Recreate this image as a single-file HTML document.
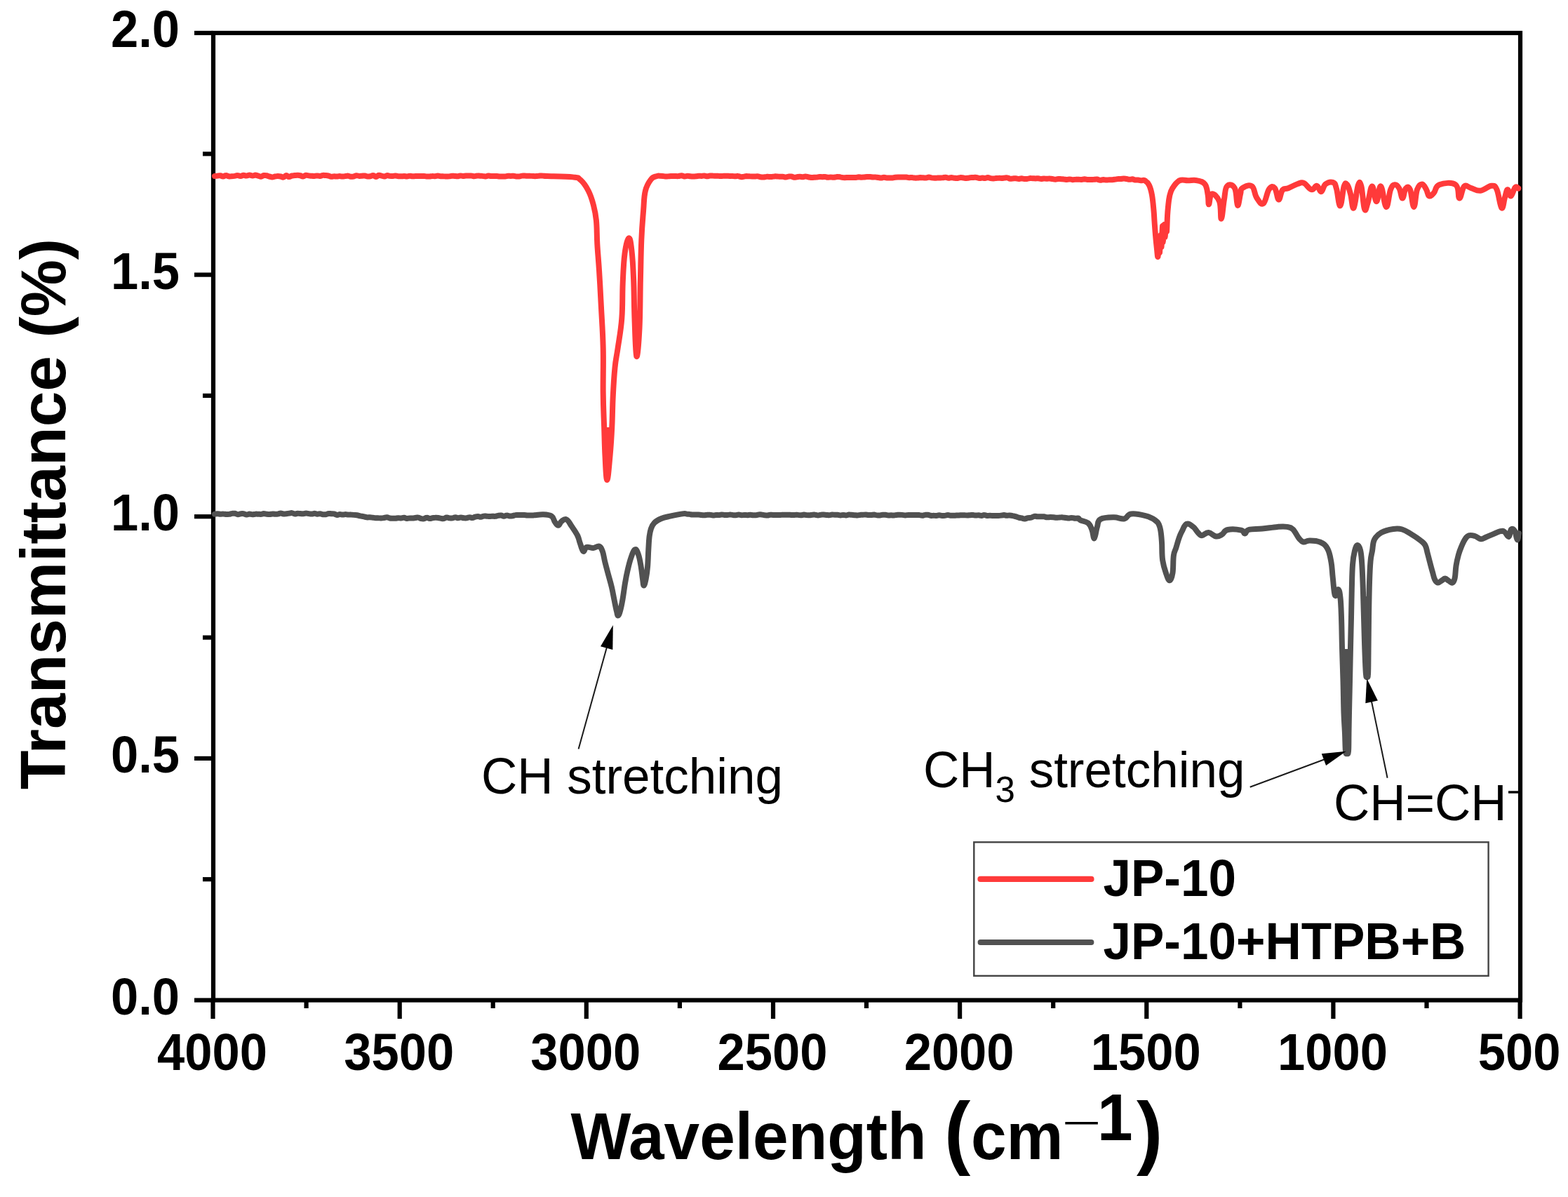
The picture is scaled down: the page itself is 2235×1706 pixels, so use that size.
<!DOCTYPE html>
<html><head><meta charset="utf-8"><title>FTIR spectra</title>
<style>
html,body{margin:0;padding:0;background:#fff;}
body{width:2235px;height:1706px;overflow:hidden;}
svg{display:block;}
.b{font-family:"Liberation Sans",Arial,sans-serif;font-weight:bold;fill:#000;}
.r{font-family:"Liberation Sans",Arial,sans-serif;font-weight:normal;fill:#000;}
</style></head>
<body>
<svg width="2235" height="1706" viewBox="0 0 2235 1706">
<rect x="0" y="0" width="2235" height="1706" fill="#fff"/>
<g stroke="#000" stroke-width="6.2" stroke-linecap="butt">
<line x1="277" y1="1425.5" x2="304.0" y2="1425.5"/><line x1="277" y1="1080.9" x2="304.0" y2="1080.9"/><line x1="277" y1="736.2" x2="304.0" y2="736.2"/><line x1="277" y1="391.6" x2="304.0" y2="391.6"/><line x1="277" y1="47.0" x2="304.0" y2="47.0"/><line x1="289" y1="1253.2" x2="304.0" y2="1253.2"/><line x1="289" y1="908.6" x2="304.0" y2="908.6"/><line x1="289" y1="563.9" x2="304.0" y2="563.9"/><line x1="289" y1="219.3" x2="304.0" y2="219.3"/><line x1="2166.6" y1="1425.5" x2="2166.6" y2="1452"/><line x1="1900.4" y1="1425.5" x2="1900.4" y2="1452"/><line x1="1634.3" y1="1425.5" x2="1634.3" y2="1452"/><line x1="1368.1" y1="1425.5" x2="1368.1" y2="1452"/><line x1="1102.0" y1="1425.5" x2="1102.0" y2="1452"/><line x1="835.8" y1="1425.5" x2="835.8" y2="1452"/><line x1="569.7" y1="1425.5" x2="569.7" y2="1452"/><line x1="303.5" y1="1425.5" x2="303.5" y2="1452"/><line x1="2033.5" y1="1425.5" x2="2033.5" y2="1437"/><line x1="1767.4" y1="1425.5" x2="1767.4" y2="1437"/><line x1="1501.2" y1="1425.5" x2="1501.2" y2="1437"/><line x1="1235.0" y1="1425.5" x2="1235.0" y2="1437"/><line x1="968.9" y1="1425.5" x2="968.9" y2="1437"/><line x1="702.7" y1="1425.5" x2="702.7" y2="1437"/><line x1="436.6" y1="1425.5" x2="436.6" y2="1437"/>
</g>
<rect x="304.0" y="47.0" width="1863.0" height="1378.5" fill="none" stroke="#000" stroke-width="6.2"/>
<g fill="none" stroke-linejoin="round" stroke-linecap="round">
<path d="M306.0,732.7 C306.8,732.6 308.5,732.2 310.1,732.2 C311.8,732.2 312.6,732.7 314.3,732.8 C315.9,732.8 316.7,732.4 318.4,732.5 C320.1,732.5 320.9,732.8 322.5,732.9 C324.2,733.0 325.0,733.1 326.7,732.9 C328.3,732.7 329.1,732.1 330.8,731.9 C332.5,731.7 333.3,731.5 334.9,731.8 C336.6,732.1 337.4,733.2 339.1,733.3 C340.7,733.4 341.5,732.5 343.2,732.3 C344.9,732.0 345.7,732.0 347.3,732.2 C349.0,732.5 349.8,733.5 351.5,733.6 C353.1,733.7 353.9,732.7 355.6,732.6 C357.3,732.6 358.1,733.3 359.7,733.3 C361.4,733.3 362.2,732.8 363.9,732.7 C365.5,732.5 366.4,732.7 368.0,732.7 C369.6,732.7 370.4,733.0 372.0,732.9 C373.6,732.7 374.4,732.0 376.0,731.9 C377.6,731.9 378.4,732.5 380.1,732.7 C381.7,733.0 382.5,733.2 384.1,733.1 C385.7,733.0 386.5,732.5 388.1,732.4 C389.7,732.3 390.5,732.7 392.1,732.7 C393.7,732.8 394.5,732.8 396.1,732.6 C397.7,732.3 398.5,731.4 400.1,731.4 C401.7,731.4 402.6,732.4 404.2,732.6 C405.8,732.7 406.6,732.4 408.2,732.2 C409.8,732.0 410.6,731.9 412.2,731.6 C413.8,731.4 414.6,730.9 416.2,731.1 C417.8,731.3 418.6,732.4 420.2,732.5 C421.8,732.6 422.6,731.8 424.2,731.7 C425.9,731.7 426.7,732.0 428.3,732.1 C429.9,732.2 430.7,732.5 432.3,732.3 C433.9,732.2 434.7,731.6 436.3,731.6 C437.9,731.6 438.7,731.9 440.3,732.1 C441.9,732.3 442.7,732.7 444.3,732.6 C445.9,732.6 446.7,731.8 448.3,731.8 C449.9,731.8 450.7,732.6 452.3,732.7 C454.0,732.8 454.8,732.1 456.4,732.2 C458.0,732.3 458.8,733.0 460.4,733.2 C462.0,733.4 462.8,733.5 464.4,733.2 C466.0,733.0 466.8,732.2 468.4,732.0 C470.0,731.7 470.8,732.1 472.4,732.2 C474.0,732.3 474.8,732.1 476.4,732.4 C478.0,732.8 478.8,733.8 480.4,733.9 C482.0,734.1 482.8,733.2 484.4,733.1 C486.0,733.0 486.8,733.6 488.5,733.6 C490.1,733.6 490.9,733.1 492.5,733.1 C494.1,733.1 494.9,733.6 496.5,733.6 C498.1,733.7 498.9,733.5 500.5,733.6 C502.1,733.6 502.8,733.7 504.5,733.9 C506.2,734.1 507.2,734.0 509.0,734.3 C510.9,734.6 511.8,735.1 513.6,735.4 C515.4,735.8 516.3,735.7 518.1,736.1 C519.9,736.5 520.8,737.1 522.7,737.3 C524.5,737.6 525.5,737.2 527.2,737.3 C528.9,737.4 529.6,737.5 531.3,737.7 C532.9,737.9 533.7,738.1 535.3,738.2 C536.9,738.3 537.7,738.1 539.4,738.2 C541.0,738.2 541.8,738.5 543.4,738.5 C545.1,738.5 545.9,738.3 547.5,738.0 C549.1,737.7 549.9,737.1 551.5,737.2 C553.2,737.3 554.0,738.2 555.6,738.5 C557.2,738.8 558.0,738.7 559.7,738.8 C561.3,738.8 562.1,738.8 563.7,738.7 C565.3,738.6 566.1,738.2 567.8,738.2 C569.4,738.2 570.2,738.6 571.8,738.5 C573.5,738.5 574.3,737.6 575.9,737.7 C577.5,737.8 578.3,738.8 579.9,738.9 C581.6,739.1 582.4,738.5 584.0,738.4 C585.6,738.3 586.4,738.6 588.1,738.5 C589.7,738.5 590.5,738.2 592.1,738.0 C593.7,737.8 594.5,737.4 596.2,737.6 C597.8,737.8 598.6,738.7 600.2,739.0 C601.9,739.4 602.7,739.6 604.3,739.3 C605.9,739.0 606.7,737.7 608.3,737.7 C610.0,737.6 610.8,738.8 612.4,738.9 C614.0,739.1 614.8,738.5 616.5,738.2 C618.1,738.0 618.9,737.8 620.5,737.8 C622.1,737.7 622.9,737.8 624.6,738.0 C626.2,738.3 627.0,738.7 628.6,738.9 C630.3,739.1 631.1,739.3 632.7,739.1 C634.3,738.8 635.1,737.7 636.7,737.6 C638.4,737.4 639.2,738.2 640.8,738.4 C642.4,738.6 643.2,738.7 644.9,738.4 C646.5,738.2 647.3,737.3 648.9,737.3 C650.5,737.2 651.3,738.3 653.0,738.3 C654.6,738.3 655.4,737.4 657.0,737.4 C658.7,737.4 659.5,738.1 661.1,738.3 C662.7,738.4 663.5,738.5 665.1,738.3 C666.8,738.1 667.6,737.3 669.2,737.3 C670.8,737.2 671.6,738.1 673.3,738.0 C674.9,737.8 675.7,737.0 677.3,736.6 C678.9,736.2 679.7,736.0 681.4,736.0 C683.0,736.0 683.8,736.9 685.4,736.8 C687.1,736.7 687.9,735.8 689.5,735.6 C691.1,735.4 691.9,735.6 693.5,735.7 C695.2,735.8 696.0,736.1 697.6,736.1 C699.2,736.1 700.1,735.8 701.7,735.7 C703.4,735.7 704.2,736.1 705.9,735.9 C707.5,735.7 708.3,735.2 710.0,734.9 C711.6,734.6 712.5,734.3 714.1,734.5 C715.8,734.7 716.6,735.7 718.2,735.8 C719.9,735.8 720.7,734.6 722.4,734.6 C724.0,734.5 724.8,735.4 726.5,735.5 C728.1,735.7 729.0,735.5 730.6,735.2 C732.3,734.9 733.1,734.3 734.7,734.1 C736.4,733.8 737.2,734.1 738.9,734.0 C740.5,734.0 741.3,733.9 743.0,733.9 C744.7,733.9 745.5,734.0 747.2,734.1 C749.0,734.2 749.8,734.4 751.5,734.5 C753.2,734.5 754.0,734.5 755.8,734.5 C757.5,734.5 756.3,734.7 760.0,734.5 C763.7,734.3 769.1,733.1 774.3,733.3 C779.5,733.5 782.9,733.6 786.2,735.7 C789.5,737.8 789.1,741.4 791.0,744.0 C792.9,746.6 793.8,749.0 795.7,748.8 C797.6,748.6 798.1,744.6 800.5,742.9 C802.9,741.2 804.7,739.1 807.6,740.5 C810.5,741.9 811.7,745.5 814.8,750.0 C817.9,754.5 820.7,758.3 823.1,763.1 C825.5,767.9 825.0,769.3 826.7,773.8 C828.4,778.3 829.5,784.5 831.4,785.7 C833.3,786.9 833.3,780.7 836.2,779.8 C839.1,778.9 842.1,781.2 845.7,781.0 C849.3,780.8 851.4,777.7 854.0,778.6 C856.6,779.5 857.1,781.2 858.8,785.7 C860.5,790.2 860.7,794.5 862.4,801.2 C864.1,807.9 865.2,811.9 867.1,819.0 C869.0,826.1 870.2,829.7 871.9,836.9 C873.6,844.1 874.1,847.9 875.5,854.8 C876.9,861.7 877.9,866.9 879.0,871.4 C880.1,875.9 879.8,877.4 880.8,877.4 C881.8,877.4 882.5,875.9 883.8,871.4 C885.1,866.9 886.0,862.9 887.4,854.8 C888.8,846.7 889.6,839.3 891.0,831.0 C892.4,822.7 892.8,820.3 894.5,813.1 C896.2,805.9 897.2,801.2 899.3,795.2 C901.4,789.2 903.1,784.2 905.2,783.3 C907.3,782.4 908.3,785.7 910.0,790.5 C911.7,795.3 912.4,800.2 913.6,807.1 C914.8,814.0 915.2,819.5 916.0,825.0 C916.8,830.5 916.8,834.5 917.7,834.5 C918.6,834.5 919.6,830.5 920.7,825.0 C921.8,819.5 922.4,815.4 923.1,807.1 C923.8,798.8 923.8,791.6 924.3,783.3 C924.8,775.0 924.8,771.4 925.5,765.5 C926.2,759.6 926.5,757.7 927.9,753.6 C929.3,749.5 929.8,748.1 932.6,745.2 C935.4,742.3 937.6,741.2 942.1,739.3 C946.6,737.4 948.8,737.1 955.2,735.7 C961.6,734.3 969.6,732.7 974.3,732.1 C979.0,731.5 976.9,732.3 978.6,732.5 C980.3,732.6 981.2,732.7 982.9,732.9 C984.6,733.1 985.4,733.5 987.1,733.6 C988.9,733.7 989.7,733.4 991.4,733.4 C993.1,733.4 994.0,733.5 995.7,733.6 C997.4,733.7 998.3,733.9 1000.0,734.0 C1001.7,734.1 1002.4,734.3 1004.1,734.3 C1005.7,734.2 1006.5,733.8 1008.2,733.7 C1009.8,733.6 1010.6,733.6 1012.2,733.8 C1013.9,733.9 1014.7,734.5 1016.3,734.6 C1017.9,734.6 1018.8,734.1 1020.4,734.0 C1022.0,733.9 1022.8,734.2 1024.5,734.1 C1026.1,733.9 1026.9,733.4 1028.5,733.4 C1030.2,733.4 1031.0,733.8 1032.6,733.9 C1034.2,734.0 1035.1,734.2 1036.7,734.1 C1038.3,734.0 1039.1,733.4 1040.8,733.4 C1042.4,733.4 1043.2,734.0 1044.8,734.1 C1046.5,734.3 1047.3,734.3 1048.9,734.2 C1050.6,734.0 1051.4,733.5 1053.0,733.5 C1054.6,733.5 1055.4,734.1 1057.1,734.2 C1058.7,734.3 1059.5,733.9 1061.2,734.0 C1062.8,734.0 1063.6,734.2 1065.2,734.2 C1066.9,734.2 1067.7,733.8 1069.3,733.8 C1070.9,733.8 1071.8,734.2 1073.4,734.2 C1075.0,734.3 1075.8,734.4 1077.5,734.3 C1079.1,734.1 1079.9,733.6 1081.5,733.4 C1083.2,733.3 1084.0,733.3 1085.6,733.5 C1087.2,733.6 1088.1,734.0 1089.7,734.2 C1091.3,734.4 1092.1,734.7 1093.8,734.6 C1095.4,734.5 1096.2,733.8 1097.8,733.7 C1099.5,733.6 1100.3,733.9 1101.9,733.9 C1103.6,734.0 1104.4,734.0 1106.0,734.0 C1107.6,734.0 1108.4,734.2 1110.0,734.1 C1111.6,734.1 1112.4,733.8 1114.0,733.8 C1115.6,733.7 1116.4,733.8 1118.0,733.8 C1119.6,733.8 1120.4,733.8 1122.0,733.8 C1123.6,733.8 1124.4,733.8 1126.0,733.8 C1127.6,733.9 1128.4,734.1 1130.0,734.1 C1131.6,734.1 1132.4,733.8 1134.0,733.8 C1135.6,733.7 1136.4,733.7 1138.0,733.9 C1139.6,734.0 1140.4,734.4 1142.0,734.3 C1143.6,734.2 1144.4,733.5 1146.0,733.4 C1147.6,733.4 1148.4,733.9 1150.0,734.1 C1151.6,734.3 1152.4,734.3 1154.0,734.3 C1155.6,734.2 1156.4,733.9 1158.0,733.8 C1159.6,733.6 1160.4,733.5 1162.0,733.7 C1163.6,733.8 1164.4,734.4 1166.0,734.4 C1167.6,734.4 1168.4,733.8 1170.0,733.7 C1171.6,733.5 1172.4,733.6 1174.0,733.6 C1175.6,733.7 1176.4,733.8 1178.0,733.9 C1179.6,734.0 1180.4,734.3 1182.0,734.2 C1183.6,734.2 1184.4,733.6 1186.0,733.5 C1187.6,733.4 1188.4,733.7 1190.0,733.8 C1191.6,733.8 1192.4,733.7 1194.0,733.8 C1195.6,733.9 1196.4,734.4 1198.0,734.4 C1199.6,734.4 1200.4,733.9 1202.0,733.9 C1203.6,733.9 1204.4,734.5 1206.0,734.4 C1207.6,734.4 1208.4,733.7 1210.0,733.6 C1211.6,733.5 1212.4,733.7 1214.0,733.8 C1215.6,733.9 1216.4,734.0 1218.0,734.2 C1219.6,734.3 1220.4,734.5 1222.0,734.5 C1223.6,734.4 1224.4,734.1 1226.0,733.9 C1227.6,733.8 1228.4,733.7 1230.0,733.7 C1231.6,733.6 1232.4,733.5 1234.0,733.5 C1235.6,733.6 1236.4,733.9 1238.0,734.0 C1239.6,734.1 1240.4,734.1 1242.0,734.0 C1243.6,733.9 1244.4,733.6 1246.0,733.6 C1247.6,733.7 1248.4,734.2 1250.1,734.4 C1251.7,734.6 1252.5,734.6 1254.1,734.5 C1255.7,734.3 1256.5,733.8 1258.1,733.7 C1259.7,733.6 1260.5,733.7 1262.1,733.8 C1263.8,734.0 1264.6,734.4 1266.2,734.5 C1267.8,734.5 1268.6,734.3 1270.2,734.3 C1271.8,734.3 1272.6,734.6 1274.2,734.5 C1275.8,734.4 1276.7,734.1 1278.3,733.9 C1279.9,733.8 1280.7,733.7 1282.3,733.7 C1283.9,733.7 1284.7,733.7 1286.3,733.9 C1287.9,734.1 1288.7,734.5 1290.4,734.5 C1292.0,734.5 1292.8,734.0 1294.4,733.9 C1296.0,733.8 1296.8,734.0 1298.4,734.0 C1300.0,734.1 1300.8,734.1 1302.4,734.1 C1304.1,734.1 1304.9,734.1 1306.5,734.1 C1308.1,734.1 1308.9,734.0 1310.5,734.1 C1312.1,734.3 1312.9,734.8 1314.5,734.8 C1316.1,734.7 1316.9,734.1 1318.6,733.9 C1320.2,733.7 1321.0,733.5 1322.6,733.7 C1324.2,733.9 1325.0,734.6 1326.6,734.8 C1328.2,735.1 1329.0,734.8 1330.6,734.8 C1332.3,734.8 1333.1,735.0 1334.7,734.9 C1336.3,734.8 1337.1,734.3 1338.7,734.3 C1340.3,734.3 1341.1,734.8 1342.7,734.9 C1344.3,735.0 1345.2,735.1 1346.8,734.9 C1348.4,734.7 1349.2,734.1 1350.8,734.1 C1352.4,734.0 1353.2,734.6 1354.8,734.7 C1356.4,734.9 1357.2,734.8 1358.9,734.8 C1360.5,734.8 1361.3,734.7 1362.9,734.6 C1364.5,734.6 1365.3,734.6 1366.9,734.5 C1368.5,734.4 1369.3,734.3 1370.9,734.2 C1372.6,734.2 1373.4,734.2 1375.0,734.3 C1376.6,734.4 1377.4,734.5 1379.0,734.5 C1380.6,734.5 1381.4,734.3 1383.0,734.2 C1384.6,734.1 1385.4,733.9 1387.0,734.0 C1388.6,734.1 1389.4,734.6 1391.0,734.6 C1392.6,734.7 1393.4,734.2 1395.0,734.2 C1396.6,734.3 1397.4,734.9 1399.0,734.9 C1400.6,734.8 1401.4,733.9 1403.0,734.0 C1404.6,734.0 1405.4,734.8 1407.0,735.0 C1408.6,735.1 1409.4,734.7 1411.0,734.7 C1412.6,734.7 1413.4,735.0 1415.0,735.0 C1416.6,735.1 1417.4,735.0 1419.0,735.0 C1420.6,735.0 1421.4,735.1 1423.0,735.0 C1424.6,734.9 1425.4,734.8 1427.0,734.6 C1428.6,734.4 1429.4,733.9 1431.0,733.9 C1432.6,734.0 1433.4,734.7 1435.0,734.8 C1436.6,734.9 1437.3,734.4 1439.0,734.5 C1440.7,734.6 1441.6,734.7 1443.3,735.1 C1445.1,735.4 1445.9,735.7 1447.7,736.2 C1449.4,736.7 1450.3,737.2 1452.0,737.6 C1453.8,738.1 1454.6,738.1 1456.4,738.4 C1458.1,738.8 1458.9,739.5 1460.7,739.4 C1462.5,739.3 1463.4,738.5 1465.3,738.1 C1467.1,737.8 1468.0,738.0 1469.8,737.6 C1471.7,737.1 1472.6,736.2 1474.4,735.9 C1476.2,735.6 1477.1,736.2 1478.9,736.3 C1480.7,736.3 1481.7,736.2 1483.5,736.2 C1485.3,736.2 1486.2,736.1 1488.0,736.3 C1489.8,736.5 1490.7,737.1 1492.5,737.3 C1494.3,737.4 1495.3,737.0 1497.1,737.0 C1498.9,737.0 1499.8,737.1 1501.6,737.3 C1503.4,737.5 1504.3,737.8 1506.0,737.8 C1507.8,737.8 1508.7,737.5 1510.5,737.4 C1512.2,737.4 1513.1,737.3 1514.9,737.4 C1516.7,737.5 1517.6,737.8 1519.3,738.0 C1521.1,738.2 1522.0,738.5 1523.8,738.5 C1525.6,738.5 1526.4,737.8 1528.2,737.9 C1530.0,737.9 1530.9,738.6 1532.7,738.8 C1534.4,738.9 1535.6,738.1 1537.1,738.6 C1538.6,739.1 1537.2,739.9 1540.0,741.3 C1542.8,742.7 1547.6,742.7 1550.9,745.4 C1554.2,748.1 1554.6,750.6 1556.4,755.0 C1558.2,759.4 1558.3,768.0 1559.8,767.2 C1561.3,766.4 1562.1,756.3 1563.9,750.9 C1565.7,745.5 1563.8,742.7 1568.6,740.0 C1573.4,737.3 1580.9,737.4 1587.7,737.3 C1594.5,737.2 1597.8,740.3 1602.7,739.3 C1607.6,738.3 1606.2,733.3 1612.2,732.5 C1618.2,731.7 1625.9,733.4 1632.7,735.2 C1639.5,737.0 1642.2,738.2 1646.3,741.3 C1650.4,744.4 1651.2,744.9 1653.1,750.9 C1655.0,756.9 1655.1,761.8 1655.9,771.3 C1656.7,780.8 1655.8,789.1 1657.2,798.6 C1658.6,808.1 1660.7,813.3 1662.7,819.0 C1664.7,824.7 1665.6,827.7 1667.4,827.2 C1669.2,826.7 1670.4,823.4 1671.5,816.3 C1672.6,809.2 1671.9,798.9 1672.9,791.8 C1673.9,784.7 1674.8,785.8 1676.3,780.9 C1677.8,776.0 1678.8,771.8 1680.4,767.2 C1682.0,762.6 1682.3,761.8 1684.5,757.7 C1686.7,753.6 1688.0,748.2 1691.3,746.8 C1694.6,745.4 1697.5,748.4 1700.8,750.9 C1704.1,753.4 1705.1,756.6 1707.6,759.1 C1710.1,761.6 1710.1,763.2 1713.1,763.2 C1716.1,763.2 1718.5,758.8 1722.6,759.1 C1726.7,759.4 1729.7,764.0 1733.5,764.5 C1737.3,765.0 1738.4,763.7 1741.7,761.8 C1745.0,759.9 1744.4,756.2 1749.9,755.0 C1755.4,753.8 1764.1,754.6 1769.0,755.7 C1773.9,756.8 1772.2,760.5 1774.4,760.4 C1776.6,760.3 1775.0,756.4 1779.9,755.0 C1784.8,753.6 1790.8,754.4 1799.0,753.6 C1807.2,752.8 1813.7,751.4 1820.8,750.9 C1827.9,750.4 1830.0,750.2 1834.4,750.9 C1838.8,751.6 1839.5,751.1 1842.9,754.3 C1846.3,757.5 1848.4,763.5 1851.4,767.1 C1854.4,770.7 1854.9,771.8 1857.9,772.5 C1860.9,773.2 1861.7,770.4 1866.4,770.4 C1871.1,770.4 1876.2,770.2 1881.4,772.5 C1886.6,774.8 1889.0,776.2 1892.2,782.0 C1895.4,787.8 1896.0,793.2 1897.5,801.4 C1899.0,809.6 1898.6,813.5 1899.7,822.9 C1900.8,832.3 1901.3,845.2 1902.9,848.6 C1904.5,852.0 1906.0,839.3 1907.5,840.0 C1909.0,840.7 1909.6,844.0 1910.5,852.0 C1911.4,860.0 1911.5,865.8 1912.0,880.0 C1912.5,894.2 1912.5,904.8 1913.0,923.0 C1913.5,941.2 1914.0,952.4 1914.5,971.0 C1915.0,989.6 1915.0,1001.2 1915.5,1016.0 C1916.0,1030.8 1916.5,1034.0 1917.0,1045.0 C1917.5,1056.0 1917.4,1065.4 1918.0,1071.0 C1918.6,1076.6 1919.2,1073.0 1920.0,1073.0 C1920.8,1073.0 1921.5,1076.6 1922.0,1071.0 C1922.5,1065.4 1922.3,1056.0 1922.5,1045.0 C1922.7,1034.0 1922.7,1030.8 1923.0,1016.0 C1923.3,1001.2 1923.6,989.6 1924.0,971.0 C1924.4,952.4 1924.6,941.2 1925.0,923.0 C1925.4,904.8 1925.6,896.6 1926.0,880.0 C1926.4,863.4 1926.4,855.0 1926.8,840.0 C1927.2,825.0 1927.2,816.0 1928.0,805.0 C1928.8,794.0 1929.6,790.6 1931.0,785.0 C1932.4,779.4 1933.4,777.2 1935.0,777.0 C1936.6,776.8 1937.8,779.4 1939.0,784.0 C1940.2,788.6 1940.3,790.8 1941.0,800.0 C1941.7,809.2 1941.9,814.0 1942.5,830.0 C1943.1,846.0 1943.4,860.0 1944.0,880.0 C1944.6,900.0 1944.9,913.8 1945.5,930.0 C1946.1,946.2 1946.4,954.2 1947.0,961.0 C1947.6,967.8 1947.9,964.0 1948.5,964.0 C1949.1,964.0 1949.6,967.8 1950.0,961.0 C1950.4,954.2 1950.3,946.2 1950.5,930.0 C1950.7,913.8 1950.7,900.0 1951.0,880.0 C1951.3,860.0 1951.5,846.0 1952.0,830.0 C1952.5,814.0 1952.7,809.0 1953.5,800.0 C1954.3,791.0 1954.9,791.2 1956.0,785.0 C1957.1,778.8 1956.4,774.2 1959.0,769.0 C1961.6,763.8 1963.6,762.0 1969.0,759.0 C1974.4,756.0 1980.1,754.9 1986.0,754.0 C1991.9,753.1 1993.5,753.0 1998.6,754.5 C2003.7,756.0 2006.4,758.3 2011.6,761.4 C2016.8,764.5 2020.5,767.0 2024.5,770.1 C2028.5,773.2 2029.3,773.2 2031.4,777.0 C2033.5,780.8 2033.5,784.0 2034.9,789.0 C2036.3,794.0 2036.9,796.8 2038.3,802.0 C2039.7,807.2 2040.4,810.1 2041.8,814.9 C2043.2,819.7 2043.6,823.1 2045.2,826.2 C2046.8,829.3 2047.5,830.3 2049.6,830.5 C2051.7,830.7 2053.5,828.2 2055.6,827.0 C2057.7,825.8 2058.0,824.2 2059.9,824.4 C2061.8,824.6 2063.0,826.7 2065.1,827.9 C2067.2,829.1 2068.6,831.4 2070.3,830.5 C2072.0,829.6 2072.7,828.4 2073.7,823.6 C2074.7,818.8 2074.5,812.9 2075.5,806.3 C2076.5,799.7 2077.4,796.3 2078.9,790.8 C2080.4,785.3 2081.3,783.2 2083.2,778.7 C2085.1,774.2 2086.3,771.4 2088.4,768.3 C2090.5,765.2 2090.8,764.1 2093.6,763.2 C2096.4,762.3 2098.7,763.0 2102.2,764.0 C2105.7,765.0 2107.8,768.0 2110.9,768.3 C2114.0,768.6 2114.4,767.1 2117.8,765.7 C2121.2,764.3 2124.0,763.1 2128.1,761.4 C2132.2,759.7 2135.2,757.8 2138.5,757.1 C2141.8,756.4 2142.1,756.4 2144.5,758.0 C2146.9,759.6 2148.7,765.6 2150.6,764.9 C2152.5,764.2 2152.3,756.1 2154.0,754.5 C2155.7,752.9 2157.5,754.2 2159.2,757.1 C2160.9,760.0 2161.4,768.6 2162.6,769.2 C2163.8,769.8 2164.5,761.8 2165.0,760.0" stroke="#515151" stroke-width="8"/>
<polygon points="1913.5,925 1924.5,925 1923.5,971 1922.5,1016 1921.5,1068 1918.5,1068 1915.5,1016 1914.5,971" fill="#515151" stroke="none"/>
<polygon points="1943,850 1951.5,850 1951,880 1950.5,930 1949.5,958 1947.5,958 1945.5,930 1944,880" fill="#515151" stroke="none"/>
<path d="M306.0,251.0 C306.8,250.9 308.4,250.8 310.0,250.6 C311.6,250.4 312.4,250.0 314.0,250.2 C315.6,250.4 316.4,251.6 318.0,251.5 C319.6,251.5 320.4,250.1 322.0,250.1 C323.6,250.0 324.4,251.1 326.0,251.3 C327.6,251.6 328.3,251.4 330.0,251.3 C331.7,251.2 332.6,251.1 334.3,250.9 C336.0,250.6 336.9,249.9 338.6,250.0 C340.3,250.0 341.1,251.1 342.9,251.0 C344.6,251.0 345.4,249.8 347.1,249.7 C348.9,249.6 349.7,250.7 351.4,250.6 C353.1,250.6 354.0,249.6 355.7,249.6 C357.4,249.6 358.3,250.6 360.0,250.6 C361.7,250.6 362.4,249.6 364.0,249.6 C365.6,249.6 366.4,250.2 368.0,250.6 C369.6,251.0 370.4,251.8 372.0,251.7 C373.6,251.6 374.4,250.3 376.0,250.0 C377.6,249.7 378.4,250.0 380.0,250.3 C381.6,250.6 382.4,251.1 384.0,251.5 C385.6,251.9 386.4,252.4 388.0,252.4 C389.6,252.4 390.4,251.8 392.0,251.5 C393.6,251.3 394.4,251.1 396.0,251.1 C397.6,251.1 398.4,251.2 400.0,251.5 C401.6,251.8 402.4,252.9 404.0,252.6 C405.6,252.3 406.4,250.2 408.0,250.1 C409.6,250.0 410.4,252.0 412.0,252.1 C413.6,252.2 414.4,250.9 416.0,250.5 C417.6,250.1 418.4,250.2 420.0,250.0 C421.6,249.9 422.4,249.8 424.0,249.8 C425.6,249.9 426.4,249.9 428.0,250.2 C429.6,250.6 430.4,251.6 432.0,251.4 C433.6,251.3 434.4,249.9 436.0,249.7 C437.6,249.5 438.4,250.2 440.0,250.4 C441.6,250.6 442.4,250.6 444.0,250.7 C445.6,250.9 446.4,251.1 448.0,251.0 C449.6,250.9 450.4,250.4 452.0,250.4 C453.6,250.4 454.4,251.1 456.0,251.0 C457.6,250.9 458.4,250.1 460.0,249.9 C461.6,249.7 462.4,249.9 464.0,250.0 C465.6,250.1 466.4,250.1 468.0,250.5 C469.6,250.8 470.4,251.7 472.0,251.8 C473.6,252.0 474.4,251.3 476.0,251.3 C477.6,251.2 478.4,251.7 480.0,251.6 C481.6,251.5 482.4,251.0 484.0,251.0 C485.6,251.0 486.4,251.6 488.0,251.6 C489.6,251.6 490.4,251.3 492.0,251.1 C493.6,251.0 494.4,250.5 496.0,250.6 C497.6,250.8 498.4,251.7 500.0,251.8 C501.6,252.0 502.4,251.8 504.0,251.5 C505.6,251.1 506.4,250.3 508.0,250.2 C509.6,250.1 510.4,250.8 512.0,250.9 C513.6,251.0 514.4,250.8 516.0,250.7 C517.6,250.6 518.4,250.3 520.0,250.5 C521.6,250.7 522.4,251.4 524.0,251.5 C525.6,251.7 526.4,251.5 528.0,251.2 C529.6,250.9 530.4,249.9 532.0,250.1 C533.6,250.2 534.4,252.0 536.0,251.9 C537.6,251.9 538.4,250.0 540.0,249.8 C541.6,249.5 542.4,250.2 544.0,250.6 C545.6,250.9 546.4,251.6 548.0,251.5 C549.6,251.4 550.4,250.1 552.0,250.0 C553.6,249.9 554.4,250.7 556.0,250.9 C557.6,251.1 558.4,251.1 560.0,251.0 C561.6,250.9 562.4,250.4 564.0,250.4 C565.6,250.5 566.4,251.0 568.0,251.2 C569.6,251.4 570.4,251.3 572.0,251.3 C573.6,251.3 574.4,251.1 576.0,251.1 C577.6,251.1 578.4,251.5 580.0,251.5 C581.6,251.4 582.4,250.8 584.0,250.8 C585.6,250.7 586.4,251.2 588.0,251.2 C589.6,251.3 590.4,251.1 592.0,251.1 C593.6,251.1 594.4,251.1 596.0,251.1 C597.6,251.1 598.4,251.0 600.0,251.0 C601.6,251.0 602.4,250.9 604.0,250.9 C605.6,251.0 606.4,251.3 608.0,251.4 C609.6,251.5 610.4,251.6 612.0,251.5 C613.6,251.4 614.4,251.0 616.0,251.0 C617.6,250.9 618.4,251.3 620.0,251.2 C621.6,251.1 622.4,250.5 624.0,250.5 C625.6,250.5 626.4,251.1 628.0,251.2 C629.6,251.4 630.4,251.1 632.0,251.2 C633.6,251.2 634.4,251.5 636.0,251.6 C637.6,251.6 638.4,251.6 640.0,251.4 C641.6,251.2 642.4,250.8 644.0,250.7 C645.6,250.6 646.4,250.8 648.0,250.9 C649.6,251.0 650.4,251.3 652.0,251.2 C653.6,251.1 654.4,250.5 656.0,250.4 C657.6,250.4 658.4,250.9 660.0,251.0 C661.6,251.0 662.4,250.7 664.0,250.6 C665.6,250.5 666.4,250.6 668.0,250.5 C669.6,250.5 670.4,250.3 672.0,250.5 C673.6,250.6 674.4,251.3 676.0,251.3 C677.6,251.3 678.4,250.7 680.0,250.6 C681.6,250.4 682.4,250.6 684.0,250.7 C685.6,250.8 686.4,250.7 688.0,250.9 C689.6,251.0 690.4,251.5 692.0,251.4 C693.6,251.4 694.4,250.6 696.0,250.5 C697.6,250.4 698.4,250.9 700.0,251.0 C701.6,251.1 702.4,250.9 704.0,250.9 C705.6,251.0 706.4,251.0 708.0,251.1 C709.6,251.2 710.4,251.4 712.0,251.5 C713.6,251.5 714.4,251.4 716.0,251.4 C717.6,251.4 718.4,251.6 720.0,251.4 C721.6,251.3 722.4,250.8 724.0,250.7 C725.6,250.6 726.4,250.9 728.0,250.9 C729.6,250.9 730.4,250.7 732.0,250.8 C733.6,250.9 734.4,251.3 736.0,251.5 C737.6,251.6 738.4,251.7 740.0,251.5 C741.6,251.4 742.4,250.8 744.0,250.6 C745.6,250.4 746.4,250.6 748.0,250.6 C749.6,250.6 750.4,250.7 752.0,250.7 C753.6,250.7 754.4,250.6 756.0,250.7 C757.6,250.7 758.4,250.9 760.0,251.0 C761.6,251.1 762.4,251.2 764.0,251.1 C765.6,251.1 766.4,250.9 768.0,250.7 C769.6,250.6 770.4,250.4 772.0,250.4 C773.6,250.4 774.4,250.8 776.0,250.9 C777.6,251.0 771.9,250.7 780.0,251.0 C788.1,251.3 806.9,251.3 816.4,252.4 C825.9,253.5 823.1,252.7 827.6,256.6 C832.1,260.5 835.1,265.0 838.7,272.0 C842.3,279.0 843.5,283.1 845.7,291.5 C847.9,299.9 848.8,302.8 849.9,314.0 C851.0,325.2 850.5,333.0 851.3,347.5 C852.1,362.0 853.0,368.8 854.1,386.7 C855.2,404.6 855.8,415.2 856.9,437.0 C858.0,458.8 859.1,471.2 859.7,495.8 C860.3,520.4 859.4,537.6 859.7,560.0 C860.0,582.4 860.5,589.8 861.1,607.7 C861.7,625.6 861.7,634.3 862.5,649.6 C863.3,664.9 863.9,684.0 865.3,684.0 C866.7,684.0 868.1,664.9 869.5,649.6 C870.9,634.3 871.5,624.5 872.3,607.7 C873.1,590.9 872.9,582.5 873.7,565.7 C874.5,548.9 875.1,537.8 876.5,523.8 C877.9,509.8 878.7,509.8 880.7,495.8 C882.7,481.8 884.9,472.3 886.3,453.8 C887.7,435.3 886.9,421.9 887.7,403.4 C888.5,384.9 888.8,374.3 890.5,361.5 C892.2,348.7 894.1,340.6 896.1,339.5 C898.1,338.4 898.9,344.2 900.3,355.9 C901.7,367.6 902.3,378.2 903.1,397.8 C903.9,417.4 903.7,431.8 904.5,453.8 C905.3,475.8 905.9,505.2 907.3,508.0 C908.7,510.8 910.4,489.8 911.5,467.8 C912.6,445.8 912.3,423.0 912.9,397.8 C913.5,372.6 913.5,361.5 914.3,341.9 C915.1,322.3 916.0,314.0 917.1,300.0 C918.2,286.0 917.7,281.0 919.9,272.0 C922.1,263.0 925.0,259.4 928.3,255.2 C931.6,251.0 934.1,251.9 936.6,251.0 C939.1,250.1 939.2,250.8 940.9,250.8 C942.7,250.8 943.5,250.9 945.3,251.1 C947.0,251.2 947.9,251.5 949.6,251.6 C951.4,251.6 952.2,251.3 954.0,251.2 C955.7,251.1 956.6,251.0 958.3,250.9 C960.0,250.9 960.9,251.0 962.6,251.0 C964.4,251.1 965.2,251.3 967.0,251.1 C968.7,250.9 969.6,250.2 971.3,250.2 C973.1,250.3 973.9,251.3 975.7,251.4 C977.4,251.5 978.3,250.8 980.0,250.8 C981.7,250.8 982.4,251.1 984.0,251.2 C985.6,251.4 986.4,251.4 988.0,251.4 C989.6,251.4 990.4,251.5 992.0,251.3 C993.6,251.2 994.4,250.9 996.0,250.8 C997.6,250.7 998.4,250.9 1000.0,250.9 C1001.6,250.8 1002.4,250.4 1004.0,250.5 C1005.6,250.6 1006.4,251.3 1008.0,251.3 C1009.6,251.3 1010.4,250.6 1012.0,250.5 C1013.6,250.4 1014.4,250.5 1016.0,250.6 C1017.6,250.6 1018.4,250.7 1020.0,250.8 C1021.6,250.8 1022.4,250.7 1024.0,250.8 C1025.6,250.8 1026.4,251.1 1028.0,251.1 C1029.6,251.0 1030.4,250.8 1032.0,250.7 C1033.6,250.6 1034.4,250.6 1036.0,250.7 C1037.6,250.7 1038.4,250.9 1040.0,250.9 C1041.6,251.0 1042.4,250.8 1044.0,250.9 C1045.6,251.0 1046.4,251.3 1048.0,251.3 C1049.6,251.3 1050.4,250.7 1052.0,250.9 C1053.6,251.0 1054.4,251.9 1056.0,252.1 C1057.6,252.3 1058.4,251.9 1060.0,251.8 C1061.6,251.6 1062.4,251.2 1064.0,251.1 C1065.6,251.1 1066.4,251.3 1068.0,251.3 C1069.6,251.4 1070.4,251.5 1072.0,251.5 C1073.6,251.6 1074.4,251.6 1076.0,251.6 C1077.6,251.5 1078.4,251.1 1080.0,251.3 C1081.6,251.4 1082.4,252.1 1084.0,252.3 C1085.6,252.6 1086.4,252.7 1088.0,252.6 C1089.6,252.5 1090.4,252.0 1092.0,251.9 C1093.6,251.7 1094.4,251.9 1096.0,251.9 C1097.6,252.0 1098.4,252.1 1100.0,252.0 C1101.6,251.9 1102.4,251.5 1104.0,251.4 C1105.6,251.3 1106.4,251.4 1108.0,251.5 C1109.6,251.6 1110.4,251.8 1112.0,251.8 C1113.6,251.9 1114.4,251.6 1116.0,251.8 C1117.6,251.9 1118.4,252.6 1120.0,252.6 C1121.6,252.5 1122.4,251.9 1124.0,251.6 C1125.6,251.4 1126.4,251.2 1128.0,251.5 C1129.6,251.7 1130.4,252.6 1132.0,252.8 C1133.6,252.9 1134.4,252.4 1136.0,252.2 C1137.6,252.0 1138.4,251.7 1140.0,251.7 C1141.6,251.7 1142.4,252.3 1144.0,252.3 C1145.6,252.3 1146.4,251.6 1148.0,251.6 C1149.6,251.6 1150.4,252.0 1152.0,252.3 C1153.6,252.6 1154.4,252.8 1156.0,252.9 C1157.6,253.1 1158.4,252.9 1160.0,252.8 C1161.6,252.7 1162.4,252.8 1164.0,252.6 C1165.6,252.4 1166.4,252.1 1168.0,252.0 C1169.6,251.9 1170.4,252.2 1172.0,252.2 C1173.6,252.2 1174.4,251.8 1176.0,251.9 C1177.6,252.0 1178.4,252.7 1180.0,252.8 C1181.6,252.9 1182.4,252.5 1184.0,252.5 C1185.6,252.5 1186.4,252.9 1188.0,252.8 C1189.6,252.8 1190.4,252.4 1192.0,252.2 C1193.6,252.1 1194.4,251.9 1196.0,252.1 C1197.6,252.2 1198.4,252.7 1200.0,252.9 C1201.6,253.2 1202.4,253.2 1204.0,253.2 C1205.6,253.2 1206.4,253.1 1208.0,253.0 C1209.6,253.0 1210.4,253.0 1212.0,253.0 C1213.6,253.0 1214.4,253.0 1216.0,253.0 C1217.6,253.0 1218.4,253.1 1220.0,252.9 C1221.6,252.8 1222.4,252.3 1224.0,252.2 C1225.6,252.2 1226.4,252.6 1228.0,252.7 C1229.6,252.7 1230.4,252.6 1232.0,252.5 C1233.6,252.3 1234.4,252.1 1236.0,252.0 C1237.6,251.9 1238.4,252.0 1240.0,252.0 C1241.6,252.1 1242.4,252.3 1244.0,252.4 C1245.6,252.5 1246.4,252.3 1248.0,252.4 C1249.6,252.5 1250.4,252.8 1252.0,253.0 C1253.6,253.2 1254.4,253.5 1256.0,253.4 C1257.6,253.4 1258.4,252.7 1260.0,252.7 C1261.6,252.7 1262.4,253.3 1264.0,253.4 C1265.6,253.6 1266.4,253.5 1268.0,253.5 C1269.6,253.5 1270.4,253.7 1272.0,253.5 C1273.6,253.3 1274.4,252.9 1276.0,252.7 C1277.6,252.5 1278.4,252.5 1280.0,252.5 C1281.6,252.5 1282.4,252.5 1284.0,252.5 C1285.6,252.5 1286.4,252.5 1288.0,252.5 C1289.6,252.5 1290.4,252.4 1292.0,252.5 C1293.6,252.7 1294.4,253.1 1296.0,253.2 C1297.6,253.2 1298.4,252.9 1300.0,253.0 C1301.6,253.1 1302.4,253.5 1304.0,253.6 C1305.6,253.7 1306.4,253.6 1308.0,253.5 C1309.6,253.4 1310.4,253.1 1312.0,253.0 C1313.6,253.0 1314.4,253.2 1316.0,253.3 C1317.6,253.4 1318.4,253.7 1320.0,253.5 C1321.6,253.4 1322.4,252.6 1324.0,252.5 C1325.6,252.5 1326.4,253.1 1328.0,253.4 C1329.6,253.6 1330.4,253.7 1332.0,253.7 C1333.6,253.8 1334.4,253.6 1336.0,253.6 C1337.6,253.5 1338.4,253.6 1340.0,253.6 C1341.6,253.5 1342.4,253.3 1344.0,253.2 C1345.6,253.0 1346.4,252.7 1348.0,252.8 C1349.6,252.9 1350.4,253.6 1352.0,253.7 C1353.6,253.7 1354.4,253.0 1356.0,253.0 C1357.6,253.1 1358.4,253.5 1360.0,253.7 C1361.6,253.9 1362.4,254.1 1364.0,254.0 C1365.6,253.9 1366.4,253.3 1368.0,253.2 C1369.6,253.0 1370.4,253.1 1372.0,253.2 C1373.6,253.4 1374.4,253.9 1376.0,254.0 C1377.6,254.1 1378.4,253.9 1380.0,253.7 C1381.6,253.5 1382.4,253.1 1384.0,253.0 C1385.6,252.8 1386.4,252.9 1388.0,252.9 C1389.6,252.9 1390.4,252.7 1392.0,253.0 C1393.6,253.2 1394.4,253.9 1396.0,254.0 C1397.6,254.2 1398.4,253.5 1400.0,253.5 C1401.6,253.5 1402.4,254.1 1404.0,254.0 C1405.6,253.9 1406.4,253.1 1408.0,253.1 C1409.6,253.2 1410.4,253.9 1412.0,254.1 C1413.6,254.4 1414.4,254.4 1416.0,254.4 C1417.6,254.4 1418.4,254.2 1420.0,254.0 C1421.6,253.9 1422.4,253.7 1424.0,253.7 C1425.6,253.6 1426.4,254.0 1428.0,254.0 C1429.6,254.0 1430.4,253.6 1432.0,253.5 C1433.6,253.3 1434.4,253.1 1436.0,253.4 C1437.6,253.6 1438.4,254.6 1440.0,254.8 C1441.6,255.0 1442.4,254.5 1444.0,254.4 C1445.6,254.3 1446.4,254.2 1448.0,254.3 C1449.6,254.4 1450.4,254.9 1452.0,254.9 C1453.6,254.9 1454.4,254.2 1456.0,254.2 C1457.6,254.3 1458.4,254.8 1460.0,254.9 C1461.6,255.1 1462.4,255.1 1464.0,254.9 C1465.6,254.8 1466.4,254.3 1468.0,254.1 C1469.6,254.0 1470.4,254.2 1472.0,254.2 C1473.6,254.3 1474.4,254.3 1476.0,254.4 C1477.6,254.4 1478.4,254.2 1480.0,254.3 C1481.6,254.4 1482.4,254.9 1484.0,254.9 C1485.6,254.9 1486.4,254.5 1488.0,254.5 C1489.6,254.5 1490.4,254.8 1492.0,254.8 C1493.6,254.8 1494.4,254.4 1496.0,254.4 C1497.6,254.5 1498.4,254.8 1500.0,255.0 C1501.6,255.2 1502.5,255.7 1504.2,255.7 C1505.8,255.6 1506.7,255.1 1508.3,255.0 C1510.0,254.9 1510.8,255.1 1512.5,255.2 C1514.2,255.3 1515.0,255.3 1516.7,255.5 C1518.3,255.6 1519.2,256.0 1520.8,256.0 C1522.5,256.0 1523.3,255.4 1525.0,255.4 C1526.7,255.4 1527.5,256.1 1529.2,256.2 C1530.8,256.2 1531.7,255.7 1533.3,255.7 C1535.0,255.6 1535.8,255.8 1537.5,255.8 C1539.2,255.8 1540.0,256.0 1541.7,255.9 C1543.3,255.8 1544.2,255.2 1545.8,255.2 C1547.5,255.3 1548.3,255.8 1550.0,256.0 C1551.7,256.2 1552.7,256.1 1554.5,256.0 C1556.4,256.0 1557.3,255.8 1559.1,255.8 C1560.9,255.7 1561.8,255.4 1563.7,255.6 C1565.5,255.8 1566.4,256.7 1568.2,256.8 C1570.0,256.9 1570.9,256.1 1572.8,256.0 C1574.6,256.0 1575.6,256.6 1577.3,256.6 C1579.0,256.6 1579.7,256.3 1581.4,256.2 C1583.0,256.1 1583.8,256.3 1585.5,256.2 C1587.1,256.1 1587.9,255.9 1589.5,255.6 C1591.2,255.4 1592.0,255.1 1593.6,255.0 C1595.3,254.8 1596.1,255.0 1597.7,254.9 C1599.4,254.8 1600.2,254.5 1601.8,254.5 C1603.4,254.5 1604.2,254.8 1605.9,255.0 C1607.5,255.3 1608.3,255.8 1610.0,255.8 C1611.6,255.9 1612.4,255.2 1614.0,255.3 C1615.7,255.5 1616.5,256.2 1618.1,256.5 C1619.8,256.7 1620.6,256.3 1622.2,256.5 C1623.9,256.7 1624.4,257.1 1626.3,257.3 C1628.2,257.5 1629.5,256.0 1631.8,257.3 C1634.1,258.6 1636.0,259.9 1638.0,264.0 C1640.0,268.1 1640.7,270.8 1642.0,278.0 C1643.3,285.2 1643.8,292.6 1644.5,300.0 C1645.2,307.4 1645.0,308.0 1645.5,315.0 C1646.0,322.0 1646.3,327.0 1647.0,335.0 C1647.7,343.0 1648.3,348.8 1649.0,355.0 C1649.7,361.2 1649.9,367.0 1650.5,366.0 C1651.1,365.0 1651.5,351.2 1652.0,350.0 C1652.5,348.8 1652.5,363.0 1653.0,360.0 C1653.5,357.0 1654.0,336.6 1654.5,335.0 C1655.0,333.4 1655.0,354.6 1655.5,352.0 C1656.0,349.4 1656.5,323.4 1657.0,322.0 C1657.5,320.6 1657.5,345.4 1658.0,345.0 C1658.5,344.6 1659.0,321.4 1659.5,320.0 C1660.0,318.6 1660.0,338.0 1660.5,338.0 C1661.0,338.0 1661.5,321.6 1662.0,320.0 C1662.5,318.4 1662.6,332.4 1663.0,330.0 C1663.4,327.6 1663.6,315.0 1664.0,308.0 C1664.4,301.0 1664.4,300.6 1665.0,295.0 C1665.6,289.4 1665.8,285.3 1667.0,280.0 C1668.2,274.7 1668.2,273.1 1671.0,268.6 C1673.8,264.1 1676.6,259.7 1681.0,257.4 C1685.4,255.1 1688.0,257.3 1693.1,257.3 C1698.2,257.3 1701.8,256.2 1706.7,257.3 C1711.6,258.4 1714.6,258.6 1717.6,262.7 C1720.6,266.8 1720.6,272.0 1721.7,277.7 C1722.8,283.4 1722.0,291.6 1723.1,291.3 C1724.2,291.0 1724.2,277.1 1727.2,276.3 C1730.2,275.5 1735.4,280.1 1738.1,287.2 C1740.8,294.3 1739.4,312.3 1740.8,311.8 C1742.2,311.3 1743.3,293.8 1744.9,284.5 C1746.5,275.2 1746.0,268.7 1749.0,265.4 C1752.0,262.1 1756.9,262.7 1759.9,268.2 C1762.9,273.7 1762.4,291.1 1764.0,292.7 C1765.6,294.3 1766.7,281.2 1768.1,276.3 C1769.5,271.4 1767.5,270.4 1770.8,268.2 C1774.1,266.0 1780.3,262.7 1784.4,265.4 C1788.5,268.1 1787.9,276.9 1791.2,281.8 C1794.5,286.7 1797.2,292.5 1800.8,290.0 C1804.4,287.5 1805.7,273.9 1809.0,269.5 C1812.3,265.1 1814.4,265.2 1817.1,268.2 C1819.8,271.2 1820.4,284.0 1822.6,284.5 C1824.8,285.0 1825.3,274.2 1828.0,270.9 C1830.7,267.6 1831.8,270.0 1836.2,268.2 C1840.6,266.4 1845.3,263.5 1849.8,262.0 C1854.3,260.5 1854.6,259.3 1858.5,260.9 C1862.4,262.5 1865.6,269.4 1869.3,270.2 C1873.0,271.0 1874.3,264.2 1877.1,264.8 C1879.9,265.4 1880.7,273.7 1883.2,273.2 C1885.7,272.7 1886.0,265.0 1889.4,262.4 C1892.8,259.8 1897.1,258.9 1900.2,260.1 C1903.3,261.3 1902.9,262.0 1904.9,268.6 C1906.9,275.2 1908.1,293.9 1910.3,293.3 C1912.5,292.7 1913.7,271.5 1915.7,265.5 C1917.7,259.5 1918.4,261.0 1920.3,263.2 C1922.2,265.4 1923.1,269.7 1925.0,276.3 C1926.9,282.9 1927.4,298.9 1929.6,296.4 C1931.8,293.9 1933.6,270.2 1935.8,264.0 C1938.0,257.8 1938.6,258.7 1940.4,265.5 C1942.2,272.3 1943.1,293.4 1945.0,298.0 C1946.9,302.6 1947.5,295.2 1949.7,288.7 C1951.9,282.2 1953.3,265.8 1955.8,265.5 C1958.3,265.2 1959.5,287.2 1962.0,287.2 C1964.5,287.2 1965.4,264.0 1968.2,265.5 C1971.0,267.0 1973.1,294.0 1975.9,294.9 C1978.7,295.8 1979.6,276.5 1982.1,270.2 C1984.6,263.9 1985.8,263.5 1988.3,263.2 C1990.8,262.9 1992.3,264.7 1994.5,268.6 C1996.7,272.5 1997.3,282.5 1999.1,282.5 C2000.9,282.5 2001.5,271.1 2003.7,268.6 C2005.9,266.1 2007.6,264.9 2009.9,270.2 C2012.2,275.5 2013.3,294.9 2015.3,294.9 C2017.3,294.9 2017.7,276.7 2020.0,270.2 C2022.3,263.7 2024.3,262.4 2026.9,262.4 C2029.5,262.4 2031.1,266.8 2033.1,270.2 C2035.1,273.6 2034.8,278.5 2037.0,279.4 C2039.2,280.3 2041.0,278.0 2043.9,274.8 C2046.8,271.6 2045.4,265.5 2051.6,263.2 C2057.8,260.9 2069.1,259.3 2074.8,263.2 C2080.5,267.1 2077.7,282.0 2080.2,282.5 C2082.7,283.0 2083.9,268.4 2087.1,265.5 C2090.3,262.6 2091.8,266.6 2096.4,267.8 C2101.0,269.0 2104.4,272.3 2110.3,271.7 C2116.2,271.1 2121.2,265.1 2125.8,264.8 C2130.4,264.5 2130.6,263.9 2133.5,270.2 C2136.4,276.5 2138.1,294.2 2140.4,296.4 C2142.7,298.6 2143.4,286.2 2145.1,281.0 C2146.8,275.8 2147.2,270.5 2148.9,270.2 C2150.6,269.9 2151.4,280.0 2153.6,279.4 C2155.8,278.8 2157.5,269.3 2159.7,267.1 C2161.9,264.9 2163.5,268.3 2164.4,268.6" stroke="#ff3a3a" stroke-width="8"/>
<polygon points="861.5,609 872,609 869.5,650 866.5,680 864.5,680 862.5,650" fill="#ff3a3a" stroke="none"/>
</g>
<line x1="2150" y1="1129" x2="2167.0" y2="1129" stroke="#000" stroke-width="3.4"/>
<g class="b" font-size="72">
<text transform="translate(256,1445.5) scale(0.98,1.025)" text-anchor="end">0.0</text><text transform="translate(256,1100.9) scale(0.98,1.025)" text-anchor="end">0.5</text><text transform="translate(256,756.2) scale(0.98,1.025)" text-anchor="end">1.0</text><text transform="translate(256,411.6) scale(0.98,1.025)" text-anchor="end">1.5</text><text transform="translate(256,67.0) scale(0.98,1.025)" text-anchor="end">2.0</text>
<text transform="translate(2165.6,1525) scale(0.98,1.035)" text-anchor="middle">500</text><text transform="translate(1899.4,1525) scale(0.98,1.035)" text-anchor="middle">1000</text><text transform="translate(1633.3,1525) scale(0.98,1.035)" text-anchor="middle">1500</text><text transform="translate(1367.1,1525) scale(0.98,1.035)" text-anchor="middle">2000</text><text transform="translate(1101.0,1525) scale(0.98,1.035)" text-anchor="middle">2500</text><text transform="translate(834.8,1525) scale(0.98,1.035)" text-anchor="middle">3000</text><text transform="translate(568.7,1525) scale(0.98,1.035)" text-anchor="middle">3500</text><text transform="translate(302.5,1525) scale(0.98,1.035)" text-anchor="middle">4000</text>
</g>
<text class="b" font-size="91.2" transform="translate(93,732.5) rotate(-90)" text-anchor="middle">Transmittance (%)</text>
<g class="b" transform="translate(0,1652) scale(1,1.03) translate(0,-1652)">
<text font-size="91" y="1652"><tspan x="813.5">Wavelength </tspan><tspan x="1346" font-size="112">(</tspan><tspan x="1384">cm</tspan><tspan x="1514" y="1618.5" font-size="48" font-weight="normal" textLength="56" lengthAdjust="spacingAndGlyphs">&#8722;</tspan><tspan x="1564" y="1626">1</tspan><tspan x="1620" y="1652" font-size="112">)</tspan></text>
</g>
<g class="r" font-size="71">
<text transform="translate(686,1130.5) scale(1,1.03)">CH stretching</text>
<text transform="translate(1316,1121.8) scale(1,1.03)">CH<tspan font-size="51" dy="20.5">3</tspan><tspan dy="-20.5"> stretching</tspan></text>
<text transform="translate(1901,1169) scale(1,1.03)">CH=CH</text>
</g>
<line x1="824.6" y1="1067.5" x2="865.7" y2="919.8" stroke="#1a1a1a" stroke-width="2.0"/><polygon points="873.8,890.9 873.3,926.1 856.0,921.2" fill="#000"/>
<line x1="1781.7" y1="1121.7" x2="1890.7" y2="1081.2" stroke="#1a1a1a" stroke-width="2.0"/><polygon points="1918.8,1070.8 1890.1,1091.1 1883.8,1074.2" fill="#000"/>
<line x1="1977.6" y1="1108.7" x2="1954.3" y2="996.5" stroke="#1a1a1a" stroke-width="2.0"/><polygon points="1948.2,967.1 1963.9,998.6 1946.3,1002.2" fill="#000"/>
<rect x="1388.3" y="1200.3" width="733.3" height="190.5" fill="#fff" stroke="#444" stroke-width="2.4"/>
<line x1="1397.5" y1="1252.9" x2="1555.5" y2="1252.9" stroke="#ff3a3a" stroke-width="8.2" stroke-linecap="round"/>
<line x1="1397.5" y1="1343" x2="1555.5" y2="1343" stroke="#515151" stroke-width="7.8" stroke-linecap="round"/>
<g class="b" font-size="71">
<text transform="translate(1572.5,1277.1) scale(1,1.04)">JP-10</text>
<text transform="translate(1572.5,1366.7) scale(1,1.04)">JP-10+HTPB+B</text>
</g>
</svg>
</body></html>
